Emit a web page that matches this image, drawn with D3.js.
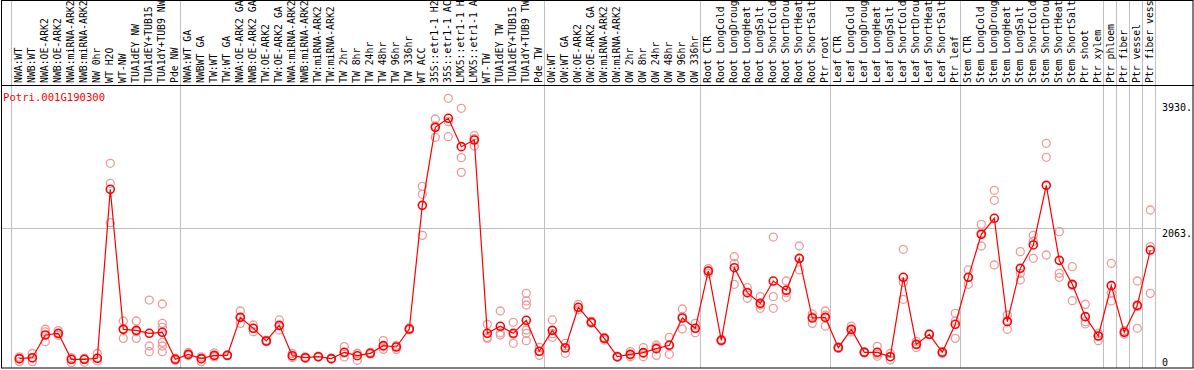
<!DOCTYPE html>
<html>
<head>
<meta charset="utf-8">
<script src="https://cdn.jsdelivr.net/npm/d3@7"></script>
<style>
body { margin: 0; background: #fff; }
svg text { font-family: "DejaVu Sans Mono", monospace; }
</style>
</head>
<body>
<script>
// canvas size
var W = 1194, H = 370;

// gene shown
var geneName = "Potri.001G190300";

// sample names, left to right
var categories = [
	"NWA:WT", "NWB:WT", "NWA:OE-ARK2", "NWB:OE-ARK2", "NWA:miRNA-ARK2", "NWB:miRNA-ARK2", "NW 0hr", "WT H2O", "WT-NW",
	"TUA1dEY NW", "TUA1dEY+TUB15", "TUA1dY+TUB9 NW", "Pde NW",
	"NWA:WT GA", "NWBWT GA", "TW:WT", "TW:WT GA", "NWA:OE-ARK2 GA", "NWB:OE-ARK2 GA", "TW:OE-ARK2", "TW:OE-ARK2 GA",
	"NWA:miRNA-ARK2", "NWB:miRNA-ARK2", "TW:miRNA-ARK2", "TW:miRNA-ARK2", "TW 2hr", "TW 8hr", "TW 24hr", "TW 48hr",
	"TW 96hr", "TW 336hr", "WT ACC", "35S::etr1-1 H2O", "35S::etr1-1 ACC", "LMX5::etr1-1 H2O", "LMX5::etr1-1 ACC",
	"WT-TW", "TUA1dEY TW", "TUA1dEY+TUB15", "TUA1dY+TUB9 TW", "Pde TW",
	"OW:WT", "OW:WT GA", "OW:OE-ARK2", "OW:OE-ARK2 GA", "OW:miRNA-ARK2", "OW:miRNA-ARK2", "OW 2hr", "OW 8hr",
	"OW 24hr", "OW 48hr", "OW 96hr", "OW 336hr",
	"Root CTR", "Root LongCold", "Root LongDrought", "Root LongHeat", "Root LongSalt", "Root ShortCold",
	"Root ShortDrought", "Root ShortHeat", "Root ShortSalt", "Ptr root",
	"Leaf CTR", "Leaf LongCold", "Leaf LongDrought", "Leaf LongHeat", "Leaf LongSalt", "Leaf ShortCold",
	"Leaf ShortDrought", "Leaf ShortHeat", "Leaf ShortSalt", "Ptr leaf",
	"Stem CTR", "Stem LongCold", "Stem LongDrought", "Stem LongHeat", "Stem LongSalt", "Stem ShortCold",
	"Stem ShortDrought", "Stem ShortHeat", "Stem ShortSalt", "Ptr shoot", "Ptr xylem",
	"Ptr phloem", "Ptr fiber", "Ptr vessel", "Ptr fiber vessel"
];

// index of first sample in every group (last entry = end of the plot)
var groupStarts = [0, 13, 41, 53, 63, 73, 84, 85, 86, 87, 88];

// mean expression per sample
var meanValues = [
	124, 138, 475, 500, 114, 114, 129, 2637, 559, 544,
	500, 515, 114, 188, 124, 173, 173, 737, 574, 386,
	618, 168, 138, 153, 124, 218, 168, 203, 317, 297,
	564, 2399, 3557, 3691, 3270, 3369, 500, 604, 500, 693,
	233, 544, 282, 886, 663, 425, 153, 188, 213, 272,
	322, 727, 574, 1425, 396, 1474, 1103, 945, 1276, 1138,
	1613, 727, 737, 287, 559, 218, 218, 153, 1331, 336,
	485, 218, 634, 1331, 1969, 2207, 673, 1464, 1811, 2696,
	1583, 1227, 747, 460, 1207, 515, 915, 1736
];

// single replicate values per sample
var replicateValues = [
	[150, 120, 80], [200, 130, 80], [560, 520, 375], [540, 490, 470], [140, 110, 65],
	[130, 110, 70], [200, 130, 90], [3023, 2726, 2142], [683, 570, 425], [683, 524, 425],
	[994, 312, 227], [935, 648, 589, 366, 312, 227], [130, 110, 100], [215, 180, 170], [150, 120, 80],
	[210, 160, 150], [175, 170, 175], [831, 735, 648], [623, 575, 524], [400, 386, 375],
	[698, 610, 549], [200, 160, 140], [150, 138, 125], [160, 150, 150], [130, 124, 118],
	[302, 210, 150], [203, 200, 100], [218, 200, 190], [391, 300, 262], [310, 320, 262],
	[580, 560, 550], [2681, 2563, 1954], [3681, 3580, 3409], [3988, 3641, 3418], [3839, 3107, 2889],
	[3433, 3390, 3280], [634, 440, 425], [831, 505, 475], [663, 485, 352], [1093, 980, 920, 549, 500, 391],
	[292, 233, 173], [698, 494, 441], [352, 290, 203], [930, 880, 850], [680, 663, 650],
	[441, 425, 400], [160, 150, 145], [228, 180, 153], [287, 200, 153], [327, 300, 173],
	[441, 330, 188], [861, 750, 564], [648, 574, 510], [1460, 1425, 1390], [410, 396, 381],
	[1637, 1539, 1227], [1177, 1110, 1020], [1044, 920, 871], [1929, 1044, 871], [1276, 1104, 1034],
	[1796, 1603, 1440], [787, 745, 648], [831, 770, 608], [300, 287, 275], [608, 550, 520],
	[228, 218, 208], [307, 190, 160], [200, 153, 104], [1747, 1257, 1005], [380, 336, 290],
	[490, 485, 480], [230, 218, 200], [797, 680, 425], [1440, 1330, 1227], [2117, 1990, 1796],
	[2622, 2474, 1514], [772, 690, 559], [1712, 1390, 1291], [1954, 1866, 1613], [3320, 3112, 1662],
	[2009, 1390, 1331], [1489, 1208, 984], [930, 673, 640], [500, 460, 391], [1539, 1100, 980],
	[540, 515, 490], [1276, 895, 574], [2330, 1786, 1093]
];

// y axis marks
var yTicks = [0, 2063, 3930];
var yTickLabels = ["0", "2063.", "3930."];

var headerBottom = 85, plotBottom = 368;

var x = d3.scaleLinear().domain([0, categories.length - 1]).range([19.3, 19.3 + 13 * (categories.length - 1)]);
var y = d3.scaleLinear().domain([0, 3930]).range([367, 102.2]);

var svg = d3.select("body")
	.append("svg")
	.attr("width", W)
	.attr("height", H);

svg.append("rect")
	.attr("width", W)
	.attr("height", H)
	.style("fill", "white");

//group separator lines, through header and plot
svg.selectAll("line.sep")
	.data(groupStarts)
	.enter().append("line")
	.attr("class", "sep")
	.attr("x1", function(d){return Math.round(x(d) - 8) + 0.5})
	.attr("x2", function(d){return Math.round(x(d) - 8) + 0.5})
	.attr("y1", 0)
	.attr("y2", plotBottom)
	.style("stroke", "#c0c0c0");

//horizontal grid line at the middle tick
svg.append("line")
	.attr("x1", 1).attr("x2", 1161)
	.attr("y1", Math.round(y(yTicks[1])) + 0.5)
	.attr("y2", Math.round(y(yTicks[1])) + 0.5)
	.style("stroke", "#c0c0c0");

//sample labels, rotated
svg.selectAll("text.cat")
	.data(categories)
	.enter().append("text")
	.attr("class", "cat")
	.attr("transform", function(d, i){return "translate(" + (x(i) + 3) + ", 83) rotate(-90)"})
	.attr("font-size", "9.8px")
	.style("fill", "black")
	.text(function(d){return d});

//frame
svg.append("rect")
	.attr("x", 1.5).attr("y", 0.5)
	.attr("width", W - 2.5).attr("height", plotBottom - 0.5)
	.style("fill", "none")
	.style("stroke", "black");
svg.append("line")
	.attr("x1", 1).attr("x2", W)
	.attr("y1", headerBottom + 0.5).attr("y2", headerBottom + 0.5)
	.style("stroke", "black");

//y labels
svg.selectAll("text.ytick")
	.data(yTicks)
	.enter().append("text")
	.attr("class", "ytick")
	.attr("x", 1162)
	.attr("y", function(d){return Math.min(y(d) + 9, 366)})
	.attr("font-size", "10px")
	.text(function(d, i){return yTickLabels[i]});

//gene title
svg.append("text")
	.attr("x", 3)
	.attr("y", 101)
	.attr("font-size", "10.6px")
	.style("fill", "red")
	.text(geneName);

//replicates
var reps = [];
replicateValues.forEach(function(r, i){ r.forEach(function(v){ reps.push({i: i, v: v}); }); });

svg.selectAll("circle.rep")
	.data(reps)
	.enter().append("circle")
	.attr("class", "rep")
	.attr("cx", function(d){return x(d.i)})
	.attr("cy", function(d){return y(d.v)})
	.attr("r", 4)
	.style("fill", "none")
	.style("stroke", "#ee9a9a")
	.style("stroke-width", 1.3);

//mean line
svg.append("path")
	.datum(meanValues)
	.attr("d", d3.line().x(function(d, i){return x(i)}).y(function(d){return y(d)}))
	.style("fill", "none")
	.style("stroke", "red")
	.style("stroke-width", 1.2);

svg.selectAll("circle.mean")
	.data(meanValues)
	.enter().append("circle")
	.attr("class", "mean")
	.attr("cx", function(d, i){return x(i)})
	.attr("cy", function(d){return y(d)})
	.attr("r", 4)
	.style("fill", "none")
	.style("stroke", "red")
	.style("stroke-width", 1.6);
</script>
</body>
</html>
